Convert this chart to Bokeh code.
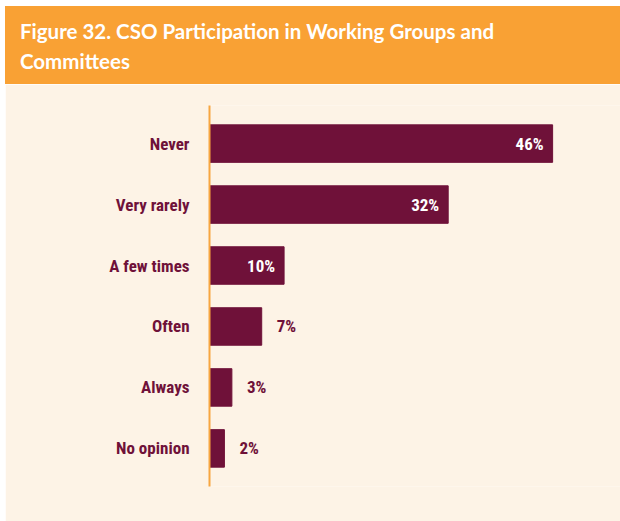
from bokeh.plotting import figure
from bokeh.models import Div, ColumnDataSource, FactorRange
from bokeh.layouts import column
from bokeh.embed import file_html
from bokeh.resources import INLINE
from bokeh.core.properties import value

# ---- data ----
categories = ["Never", "Very rarely", "A few times", "Often", "Always", "No opinion"]
percents = [46, 32, 10, 7, 3, 2]
title_line1 = "Figure 32. CSO Participation in Working Groups and"
title_line2 = "Committees"

# ---- styles ----
ORANGE = "#F9A134"
CREAM = "#FDF3E6"
MAROON = "#6F1139"
AXIS_ORANGE = "#F7A640"
COND_FONT = "Roboto Condensed"
TITLE_FONT = "Lato"

header = Div(
    text=(f'<div style="padding:10px 0 0 15px; line-height:30px; font-family:\'{TITLE_FONT}\'; '
          f'font-weight:bold; font-size:20.5px; color:white; white-space:nowrap;">'
          f'{title_line1}<br>{title_line2}</div>'),
    width=615, height=78, margin=(6, 0, 0, 5),
    styles={"background-color": ORANGE},
)

inside = [v >= 10 for v in percents]
src = ColumnDataSource(dict(
    cat=categories,
    val=percents,
    lab=[f"{v}%" for v in percents],
    xoff=[-9 if i else 15 for i in inside],
    align=["right" if i else "left" for i in inside],
    color=["white" if i else MAROON for i in inside],
))

yr = FactorRange(factors=list(reversed(categories)), range_padding=0.125,
                 range_padding_units="absolute")

p = figure(width=615, height=437, y_range=yr, x_range=(0, 55.1),
           output_backend="svg", toolbar_location=None, margin=(0, 0, 0, 5),
           min_border_left=204, min_border_right=0, min_border_top=21,
           min_border_bottom=35)
p.background_fill_color = CREAM
p.border_fill_color = CREAM
p.outline_line_color = None
p.xgrid.visible = False
p.ygrid.visible = False
p.xaxis.visible = False

p.hbar(y="cat", right="val", left=0, height=0.615, color=MAROON, source=src)
p.text(x="val", y="cat", text="lab", x_offset="xoff", text_align="align",
       text_baseline="middle", text_color="color", text_font=value(COND_FONT),
       text_font_style="bold", text_font_size="17px", source=src)

ax = p.yaxis[0]
ax.axis_line_color = AXIS_ORANGE
ax.axis_line_width = 2
ax.major_tick_line_color = None
ax.minor_tick_line_color = None
ax.major_tick_out = 0
ax.major_tick_in = 0
ax.major_label_standoff = 20
ax.major_label_text_font = COND_FONT
ax.major_label_text_font_style = "bold"
ax.major_label_text_font_size = "17px"
ax.major_label_text_color = MAROON

p.renderers.append(p.renderers.pop(0)) if False else None

layout = column(header, p, spacing=0)
open("out.html", "w").write(file_html(layout, INLINE))
